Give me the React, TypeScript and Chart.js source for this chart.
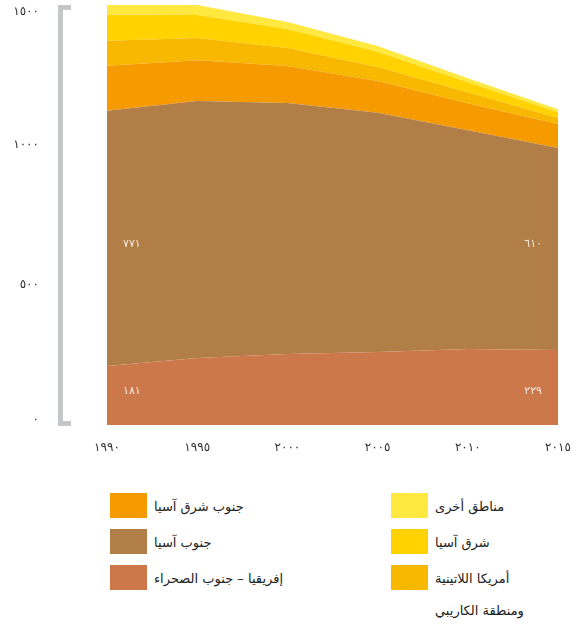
import React, { useEffect, useRef } from 'react';
import { Chart, registerables } from 'chart.js';

Chart.register(...registerables);

// ---- Data ----
const years = ['١٩٩٠', '١٩٩٥', '٢٠٠٠', '٢٠٠٥', '٢٠١٠', '٢٠١٥'];
const yTickValues = [0, 500, 1000, 1500];
const yTickLabels = ['٠', '٥٠٠', '١٠٠٠', '١٥٠٠'];

// stacked from bottom to top
const subSaharanAfrica = [211, 239, 254, 261, 271, 268];
const southAsia = [911, 918, 896, 854, 782, 721];
const southEastAsia = [161, 146, 132, 114, 96, 86];
const latinAmerica = [89, 79, 64, 50, 39, 21];
const eastAsia = [93, 82, 68, 54, 36, 21];
const otherRegions = [36, 36, 25, 21, 14, 11];

const seriesNames = [
  'إفريقيا – جنوب الصحراء',
  'جنوب آسيا',
  'جنوب شرق آسيا',
  'أمريكا اللاتينية ومنطقة الكاريبي',
  'شرق آسيا',
  'مناطق أخرى',
];

// value annotations (first year, last year)
const southAsiaLabels = ['٧٧١', '٦١٠'];
const africaLabels = ['١٨١', '٢٢٩'];

// ---- Styles ----
const COLORS = ['#CD784B', '#B07E46', '#F59B00', '#F9B800', '#FFD200', '#FFE840'];
const FONT = '"DejaVu Sans", sans-serif';

// gray bracket + y tick labels (kept inside the bracket's span)
const bracketPlugin = {
  id: 'bracket',
  afterDraw(chart: any) {
    const { ctx, chartArea, scales } = chart;
    const y = scales.y;
    const top = y.getPixelForValue(1500);
    const bottom = y.getPixelForValue(0) + 1;
    const x0 = chartArea.left - 49;
    ctx.save();
    ctx.fillStyle = '#C5C6C8';
    ctx.fillRect(x0, top, 5, bottom - top);
    ctx.fillRect(x0, top, 13, 5);
    ctx.fillRect(x0, bottom - 5, 13, 5);

    ctx.font = `12px ${FONT}`;
    ctx.fillStyle = '#333333';
    ctx.textAlign = 'right';
    ctx.textBaseline = 'middle';
    y.ticks.forEach((t: any) => {
      const idx = yTickValues.indexOf(t.value);
      if (idx < 0) return;
      let py = y.getPixelForValue(t.value);
      py = Math.min(Math.max(py, top + 7), bottom - 6);
      ctx.fillText(yTickLabels[idx], chartArea.left - 68, py);
    });
    ctx.restore();
  },
};

const valueLabelPlugin = {
  id: 'valueLabels',
  afterDatasetsDraw(chart: any) {
    const { ctx, chartArea, scales } = chart;
    const base = scales.y.getPixelForValue(0);
    ctx.save();
    ctx.font = `11px ${FONT}`;
    ctx.fillStyle = '#F4EADF';
    ctx.textBaseline = 'middle';
    const rows = [
      { labels: southAsiaLabels, y: base - 181 },
      { labels: africaLabels, y: base - 34 },
    ];
    rows.forEach((r) => {
      ctx.textAlign = 'left';
      ctx.fillText(r.labels[0], chartArea.left + 16, r.y);
      ctx.textAlign = 'right';
      ctx.fillText(r.labels[1], chartArea.right - 16, r.y);
    });
    ctx.restore();
  },
};

function ChartCanvas() {
  const ref = useRef<HTMLCanvasElement>(null);
  useEffect(() => {
    if (!ref.current) return;
    const series = [subSaharanAfrica, southAsia, southEastAsia, latinAmerica, eastAsia, otherRegions];
    const chart = new Chart(ref.current, {
      type: 'line',
      data: {
        labels: years,
        datasets: series.map((d, i) => ({
          label: seriesNames[i],
          data: d,
          backgroundColor: COLORS[i],
          borderColor: COLORS[i],
          borderWidth: 0,
          pointRadius: 0,
          fill: i === 0 ? 'origin' : '-1',
          tension: 0,
        })),
      },
      options: {
        responsive: false,
        animation: false,
        devicePixelRatio: 1,
        layout: { padding: { top: 5, right: 23, left: 0, bottom: 0 } },
        plugins: { legend: { display: false }, tooltip: { enabled: false } },
        elements: { line: { borderWidth: 0 } },
        scales: {
          x: {
            type: 'category',
            offset: false,
            grid: { display: false, drawTicks: false },
            border: { display: false },
            ticks: {
              font: { family: FONT, size: 12 },
              color: '#333333',
              padding: 16,
              maxRotation: 0,
            },
            afterFit: (s: any) => {
              s.height = 45;
              s.paddingLeft = 0;
              s.paddingRight = 0;
            },
          },
          y: {
            stacked: true,
            min: 0,
            max: 1500,
            grid: { display: false, drawTicks: false },
            border: { display: false },
            afterBuildTicks: (s: any) => {
              s.ticks = yTickValues.map((v) => ({ value: v }));
            },
            ticks: { display: false },
            afterFit: (s: any) => {
              s.width = 107;
              s.paddingTop = 0;
              s.paddingBottom = 0;
            },
          },
        },
      },
      plugins: [bracketPlugin, valueLabelPlugin],
    });
    return () => chart.destroy();
  }, []);
  return <canvas ref={ref} width={581} height={470} style={{ position: 'absolute', left: 0, top: 0 }} />;
}

const legendLeft = [
  { name: seriesNames[2], color: COLORS[2] },
  { name: seriesNames[1], color: COLORS[1] },
  { name: seriesNames[0], color: COLORS[0] },
];
const legendRight = [
  { name: seriesNames[5], color: COLORS[5] },
  { name: seriesNames[4], color: COLORS[4] },
  { name: seriesNames[3], color: COLORS[3] },
];

function LegendColumn({ items, x }: { items: { name: string; color: string }[]; x: number }) {
  return (
    <>
      {items.map((it, i) => {
        const top = 493 + i * 36;
        const parts = it.name === seriesNames[3] ? ['أمريكا اللاتينية', 'ومنطقة الكاريبي'] : [it.name];
        return (
          <React.Fragment key={it.name}>
            <div
              style={{ position: 'absolute', left: x, top, width: 37, height: 25, background: it.color }}
            />
            <div
              dir="rtl"
              style={{
                position: 'absolute',
                left: x + 44,
                top: top - 2,
                fontFamily: FONT,
                fontSize: 13,
                lineHeight: '32px',
                color: '#222',
                textAlign: 'left',
                whiteSpace: 'nowrap',
              }}
            >
              {parts.map((p, j) => (
                <div key={j} style={{ textAlign: 'left' }}>
                  {p}
                </div>
              ))}
            </div>
          </React.Fragment>
        );
      })}
    </>
  );
}

export default function App() {
  return (
    <div style={{ position: 'absolute', left: 0, top: 0, width: 581, height: 625, background: '#fff' }}>
      <ChartCanvas />
      <LegendColumn items={legendLeft} x={110} />
      <LegendColumn items={legendRight} x={391} />
    </div>
  );
}
